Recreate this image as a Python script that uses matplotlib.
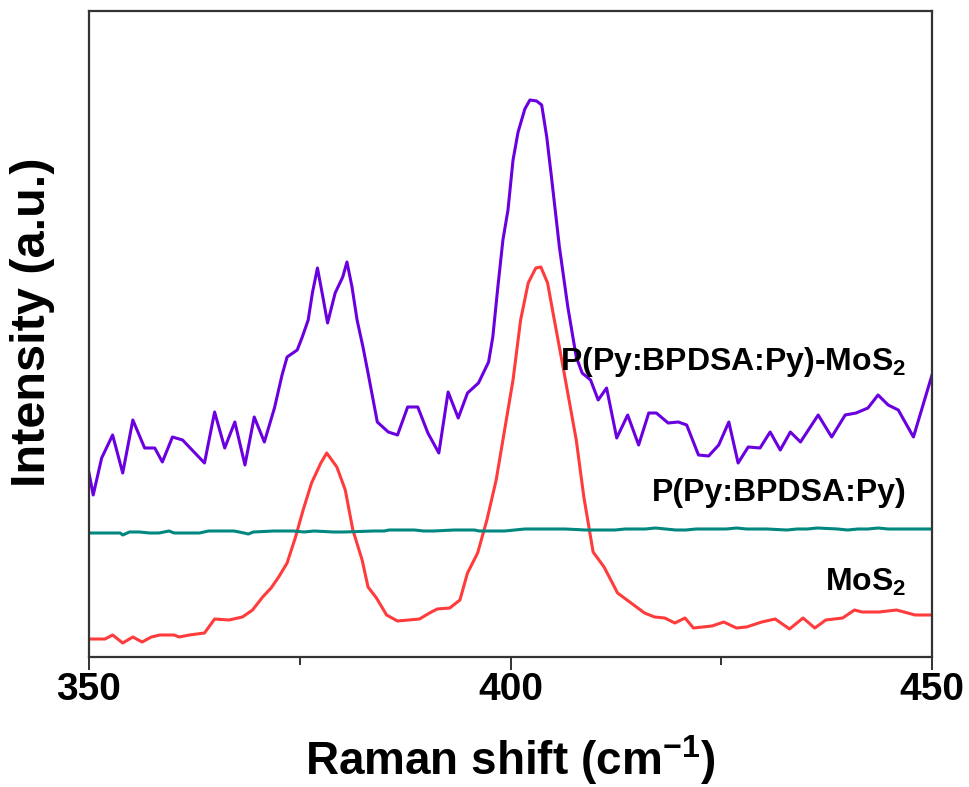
import matplotlib
matplotlib.use("Agg")
import matplotlib.pyplot as plt
from matplotlib.ticker import MultipleLocator
import numpy as np

plt.rcParams['font.family'] = ['Liberation Sans', 'DejaVu Sans']
plt.rcParams['mathtext.fontset'] = 'custom'
plt.rcParams['mathtext.rm'] = 'Liberation Sans:bold'
plt.rcParams['mathtext.bf'] = 'Liberation Sans:bold'
plt.rcParams['mathtext.it'] = 'Liberation Sans:bold'

# ---- data (Raman shift in cm^-1, intensity in arbitrary units) ----
composite_shift = [350.0, 350.5, 351.5, 352.8, 354.0, 355.2, 356.6, 357.8, 358.7, 359.9,
                   361.1, 363.7, 364.9, 366.1, 367.3, 368.5, 369.6, 370.8, 372.0, 372.9,
                   373.5, 374.7, 375.3, 376.0, 376.5, 377.1, 377.7, 378.3, 379.2, 380.1,
                   380.6, 381.2, 381.8, 382.5, 383.1, 384.2, 385.5, 386.6, 387.8, 389.0,
                   390.2, 391.5, 392.6, 393.8, 394.9, 396.2, 397.4, 397.9, 398.5, 399.1,
                   399.7, 400.3, 400.9, 401.7, 402.3, 403.1, 403.7, 404.3, 404.9, 405.8,
                   406.8, 407.8, 408.5, 409.5, 410.4, 411.4, 412.6, 413.9, 415.2, 416.4,
                   417.3, 418.7, 419.9, 420.9, 422.3, 423.5, 424.7, 425.9, 427.0, 428.2,
                   429.6, 430.8, 432.0, 433.2, 434.4, 436.5, 438.1, 439.7, 441.0, 442.4,
                   443.6, 444.8, 446.0, 447.8, 450.0]
composite_int = [184, 162, 199, 222, 184, 237, 209, 209, 195, 220,
                 217, 194, 245, 209, 235, 192, 240, 215, 249, 282,
                 300, 307, 320, 337, 364, 389, 362, 334, 364, 380,
                 395, 370, 337, 310, 284, 235, 225, 222, 250, 250,
                 224, 204, 265, 239, 264, 274, 295, 320, 370, 417,
                 447, 497, 525, 548, 557, 556, 552, 520, 477, 410,
                 350, 300, 284, 277, 257, 269, 219, 242, 212, 244,
                 244, 234, 235, 232, 202, 201, 212, 235, 194, 210,
                 209, 225, 207, 225, 215, 242, 220, 242, 244, 249,
                 262, 252, 247, 220, 282]

polymer_shift = [350, 353.7, 354.0, 354.8, 356.0, 357.2, 358.3, 359.5, 360.1, 360.7,
                 361.9, 363.1, 364.2, 364.8, 367.2, 368.4, 368.9, 369.5, 371.9, 374.3,
                 375.5, 376.7, 379.0, 380.2, 383.8, 385.0, 385.6, 388.6, 389.7, 390.9,
                 393.3, 395.7, 396.3, 398.1, 399.3, 401.7, 402.9, 404.1, 405.3, 406.5,
                 408.9, 411.2, 412.4, 413.6, 416.0, 417.2, 418.4, 419.6, 420.8, 422.0,
                 423.2, 425.6, 426.8, 428.0, 430.4, 432.8, 434.0, 435.2, 436.4, 438.8,
                 440.0, 441.2, 442.4, 443.6, 444.8, 446.0, 447.2, 450]
polymer_int = [124, 124, 122, 125, 125, 124, 124, 126, 124, 124,
               124, 124, 126, 126, 126, 124, 123, 125, 126, 126,
               125, 126, 125, 125, 126, 126, 127, 127, 126, 126,
               127, 127, 126, 126, 126, 128, 128, 128, 128, 128,
               127, 127, 127, 128, 128, 129, 128, 127, 127, 128,
               128, 128, 129, 128, 128, 127, 128, 128, 129, 128,
               127, 128, 128, 129, 128, 128, 128, 128]

mos2_shift = [350.0, 351.9, 352.8, 354.0, 355.2, 356.3, 357.4, 358.4, 360.1, 360.7,
              361.9, 363.7, 364.9, 366.6, 368.2, 369.4, 370.6, 371.6, 372.5, 373.5,
              374.5, 375.4, 376.4, 377.5, 378.2, 379.4, 380.4, 381.3, 382.4, 383.1,
              384.1, 385.3, 386.6, 389.2, 390.4, 391.3, 392.8, 394.0, 394.9, 396.1,
              397.2, 398.3, 399.3, 400.3, 401.2, 402.1, 403.0, 403.6, 404.4, 405.2,
              406.3, 407.8, 408.7, 409.8, 411.1, 412.7, 414.3, 415.9, 417.1, 418.3,
              419.5, 420.7, 421.7, 423.9, 425.3, 426.8, 428.0, 429.8, 431.4, 433.1,
              434.7, 436.1, 437.4, 439.4, 440.8, 441.7, 443.7, 445.8, 448.0, 450.0]
mos2_int = [18, 18, 22, 14, 20, 15, 20, 22, 22, 20,
            22, 24, 38, 37, 40, 47, 60, 69, 80, 94,
            120, 147, 174, 194, 204, 190, 167, 127, 97, 70,
            59, 42, 36, 38, 44, 48, 49, 57, 84, 104,
            137, 177, 227, 277, 337, 374, 389, 390, 374, 337,
            287, 217, 160, 105, 90, 64, 54, 44, 40, 39,
            34, 39, 29, 31, 35, 29, 30, 35, 38, 28,
            39, 29, 37, 39, 47, 45, 45, 47, 42, 42]

labels = ["P(Py:BPDSA:Py)-MoS$_2$", "P(Py:BPDSA:Py)", "MoS$_2$"]
label_y = [295, 164, 75]
xticks = [350, 400, 450]

purple = '#6A00E0'
teal = '#00877F'
red = '#FF3B3B'

fig = plt.figure(figsize=(9.70, 7.87), dpi=100)
W, H = 970, 787
ax = fig.add_axes([89 / W, 1 - 657 / H, (932 - 89) / W, (657 - 11) / H])

ax.plot(mos2_shift, mos2_int, color=red, lw=2.2)
ax.plot(polymer_shift, polymer_int, color=teal, lw=2.2)
ax.plot(composite_shift, composite_int, color=purple, lw=2.2)

ax.set_xlim(350, 450)
ax.set_ylim(0, 646)

ax.set_xticks(xticks)
ax.xaxis.set_minor_locator(MultipleLocator(25))
ax.set_yticks([])
ax.tick_params(axis='x', which='major', direction='out', length=9.5, width=1.3,
               color='#222222', labelsize=28, pad=1)
ax.tick_params(axis='x', which='minor', direction='out', length=5.5, width=1.3,
               color='#222222')
for lab in ax.get_xticklabels():
    lab.set_fontweight('bold')

for s in ax.spines.values():
    s.set_linewidth(1.6)
    s.set_color('#333333')

ax.set_xlabel("Raman shift (cm$^{-1}$)", fontsize=33, fontweight='bold')
ax.xaxis.set_label_coords(0.5, -0.118)
ax.set_ylabel("Intensity (a.u.)", fontsize=35, fontweight='bold')
ax.yaxis.set_label_coords(-0.04, 0.518)

for t, yv in zip(labels, label_y):
    ax.text(447, yv, t, fontsize=23, fontweight='bold', ha='right', va='center')

fig.savefig("out.png", dpi=100)
